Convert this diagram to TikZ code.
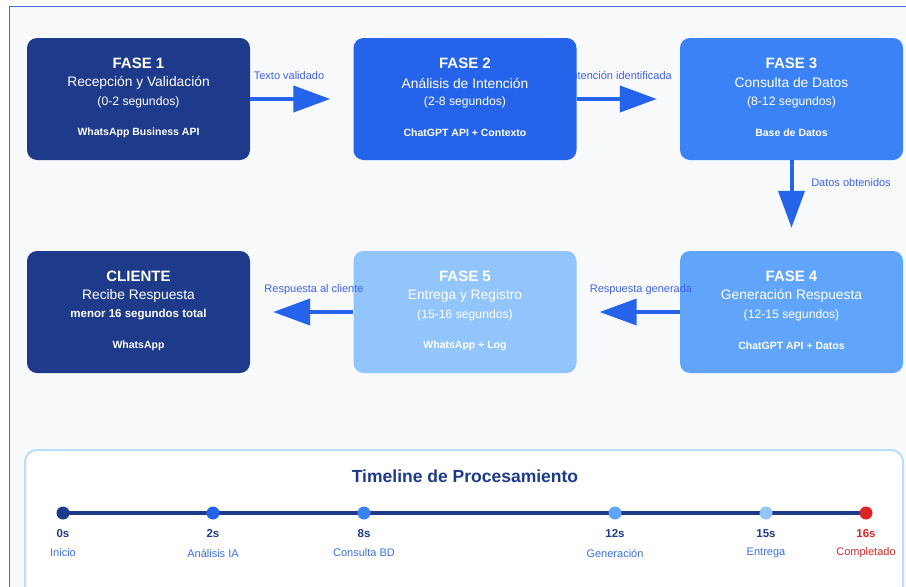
\documentclass[tikz,border=0pt]{standalone}
\usepackage{fontspec}
\setmainfont{Liberation Sans}
\usetikzlibrary{arrows.meta}
\definecolor{cA}{HTML}{1E3A8A}
\definecolor{cB}{HTML}{2563EB}
\definecolor{cC}{HTML}{3B82F6}
\definecolor{cD}{HTML}{60A5FA}
\definecolor{cE}{HTML}{93C5FD}
\definecolor{cRed}{HTML}{DC2626}
\definecolor{cFrame}{HTML}{4272D2}
\definecolor{cBg}{HTML}{F8F9FB}
\definecolor{cLbl}{HTML}{3F62E8}
\definecolor{cPanel}{HTML}{BFDBFE}
\definecolor{cName}{HTML}{3B6FE8}
\tikzset{
  box/.style={rounded corners=10pt, minimum width=223pt, minimum height=122pt, inner sep=0pt, draw=none},
  ttl/.style={text=white, font=\fontsize{15}{18}\selectfont\bfseries, inner sep=0pt},
  subt/.style={text=white, font=\fontsize{13.8}{16}\selectfont, inner sep=0pt},
  tim/.style={text=white, font=\fontsize{12.2}{14}\selectfont, inner sep=0pt},
  tech/.style={text=white, font=\fontsize{10.5}{13}\selectfont\bfseries, inner sep=0pt},
  flow/.style={draw=cB, line width=4pt, -{Triangle[length=37pt,width=26pt]}, shorten >=23pt},
  lbl/.style={text=cLbl, font=\fontsize{11}{13}\selectfont, inner sep=0pt},
  dotnode/.style={circle, minimum size=13pt, inner sep=0pt, draw=none},
  tsec/.style={text=cA, font=\fontsize{11.5}{14}\selectfont\bfseries, inner sep=0pt},
  tname/.style={text=cName, font=\fontsize{11}{13}\selectfont, inner sep=0pt},
}
\newcommand\phasebox[8]{%
  \node[box, fill=#4] (#1) at (#2,#3) {};
  \node[ttl] (#1t) at (#2,{#3-36}) {#5};
  \node[subt] (#1s) at (#2,{#3-16}) {#6};
  \node[tim] (#1m) at (#2,{#3+3}) {#7};
  \node[tech] (#1k) at (#2,{#3+34}) {#8};
}
\begin{document}
\begin{tikzpicture}[x=1pt,y=-1pt]
\useasboundingbox (0,0) rectangle (906,587);
\clip (0,0) rectangle (906,587);
\fill[white] (0,0) rectangle (906,587);
\fill[cBg] (9.5,6.5) rectangle (920,600);
\draw[cFrame, line width=1.5pt] (9.5,600) -- (9.5,6.5) -- (920,6.5);
% label hidden partly behind box 2
\node[lbl, anchor=east] (l2) at (672,76) {Intención identificada};
\phasebox{f1}{138.5}{99}{cA}{FASE 1}{Recepción y Validación}{(0-2 segundos)}{WhatsApp Business API}
\phasebox{f2}{465}{99}{cB}{FASE 2}{Análisis de Intención}{(2-8 segundos)}{ChatGPT API + Contexto}
\phasebox{f3}{791.5}{99}{cC}{FASE 3}{Consulta de Datos}{(8-12 segundos)}{Base de Datos}
\phasebox{f4}{791.5}{312}{cD}{FASE 4}{Generación Respuesta}{(12-15 segundos)}{ChatGPT API + Datos}
\phasebox{f5}{465}{312}{cE}{FASE 5}{Entrega y Registro}{(15-16 segundos)}{WhatsApp + Log}
\phasebox{cl}{138.5}{312}{cA}{CLIENTE}{Recibe Respuesta}{\bfseries\fontsize{11.5}{14}\selectfont menor 16 segundos total}{WhatsApp}
\draw[flow] (f1) -- (f2);
\draw[flow] (f2) -- (f3);
\draw[flow] (f3) -- (f4);
\draw[flow] (f4) -- (f5);
\draw[flow] (f5) -- (cl);
\node[lbl] (l1) at (289,76) {Texto validado};
\node[lbl] (l3) at (851,183) {Datos obtenidos};
\node[lbl] (l4) at (641,290) {Respuesta generada};
\node[lbl] (l5) at (314,290) {Respuesta al cliente};
% timeline panel
\draw[cPanel, line width=2pt, fill=white, rounded corners=12pt] (25,450) rectangle (903,640);
\node[text=cA, font=\fontsize{17.5}{20}\selectfont\bfseries, inner sep=0pt] (tt) at (465,476) {Timeline de Procesamiento};
\coordinate (p0) at (63,513);
\coordinate (p1) at (213,513);
\coordinate (p2) at (364,513);
\coordinate (p3) at (615,513);
\coordinate (p4) at (766,513);
\coordinate (p5) at (866,513);
\draw[cA, line width=4pt] (p0) -- (p5);
\node[dotnode, fill=cA] (d0) at (p0) {};
\node[dotnode, fill=cB] (d1) at (p1) {};
\node[dotnode, fill=cC] (d2) at (p2) {};
\node[dotnode, fill=cD] (d3) at (p3) {};
\node[dotnode, fill=cE] (d4) at (p4) {};
\node[dotnode, fill=cRed] (d5) at (p5) {};
\node[tsec] (s0) at (63,534) {0s};
\node[tsec] (s1) at (213,534) {2s};
\node[tsec] (s2) at (364,534) {8s};
\node[tsec] (s3) at (615,534) {12s};
\node[tsec] (s4) at (766,534) {15s};
\node[tsec, text=cRed] (s5) at (866,534) {16s};
\node[tname] (n0) at (63,553) {Inicio};
\node[tname] (n1) at (213,553) {Análisis IA};
\node[tname] (n2) at (364,553) {Consulta BD};
\node[tname] (n3) at (615,553) {Generación};
\node[tname] (n4) at (766,553) {Entrega};
\node[tname, text=cRed] (n5) at (866,553) {Completado};
\end{tikzpicture}
\end{document}
